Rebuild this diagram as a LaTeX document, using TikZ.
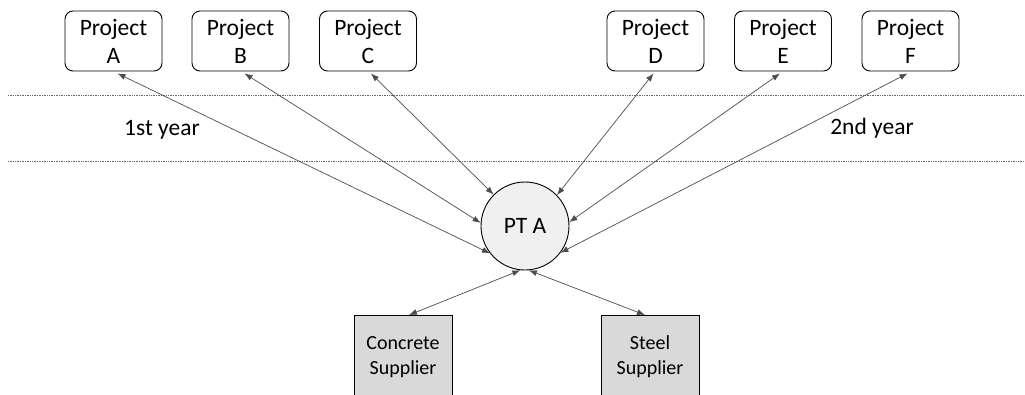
\documentclass[tikz,border=0pt]{standalone}
\usepackage{fontspec}
\setmainfont{Carlito}
\usetikzlibrary{arrows.meta,calc}
\begin{document}
\begin{tikzpicture}[x=1pt,y=-1pt,
  proj/.style={draw=black,line width=0.9pt,rounded corners=8pt,minimum width=97pt,minimum height=60pt,align=center,inner sep=0pt,font=\fontsize{23.5}{28}\selectfont},
  hub/.style={draw=black,line width=0.9pt,circle,fill=black!6,minimum size=88pt,inner sep=0pt,font=\fontsize{23.5}{26}\selectfont},
  supp/.style={draw=black,line width=0.9pt,fill=black!15,minimum width=98pt,minimum height=110pt,align=center,inner sep=0pt},
  lbl/.style={font=\fontsize{23.5}{26}\selectfont},
  link/.style={draw=black!70,line width=0.7pt,{Latex[length=8pt,width=6pt]}-{Latex[length=8pt,width=6pt]}},
  sep/.style={draw=black!60,line width=0.7pt,densely dotted}]
\useasboundingbox (0,0) rectangle (1025,394);
\clip (0,0) rectangle (1025,394);
\draw[sep] (8,95) -- (1025,95);
\draw[sep] (8,161) -- (1025,161);
\node[proj] (A) at (113.5,41) {Project\\A};
\node[proj] (B) at (240.5,41) {Project\\B};
\node[proj] (C) at (368,41) {Project\\C};
\node[proj] (D) at (655.5,41) {Project\\D};
\node[proj] (E) at (783,41) {Project\\E};
\node[proj] (F) at (910.5,41) {Project\\F};
\node[hub] (P) at (525,226) {PT A};
\node[supp,anchor=north] (CS) at (403,315) {};
\node[supp,anchor=north] (SS) at (650,315) {};
\node[align=center,font=\fontsize{20}{25}\selectfont] (CSt) at (403,357) {Concrete\\Supplier};
\node[align=center,font=\fontsize{20}{25}\selectfont] (SSt) at (650,357) {Steel\\Supplier};
\node[lbl] (y1) at (162,130) {1st year};
\node[lbl] (y2) at (872,128) {2nd year};
\draw[link] ($(A.south)+(4,2)$) -- (P.218);
\draw[link] ($(B.south)+(4,2)$) -- (P.176);
\draw[link] ($(C.south)+(3,2)$) -- (P.135);
\draw[link] ($(D.south)+(-2,2)$) -- (P.44);
\draw[link] ($(E.south)+(-3,2)$) -- (P.5);
\draw[link] ($(F.south)+(-3,2)$) -- (P.-37);
\draw[link] (P.264) -- ($(CS.north)+(6,0)$);
\draw[link] (P.275) -- ($(SS.north)+(-5,0)$);
\end{tikzpicture}
\end{document}
